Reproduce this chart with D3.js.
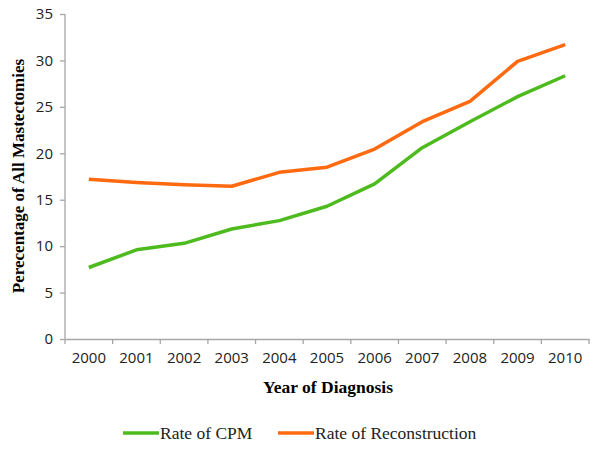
<!DOCTYPE html>
<html>
<head>
<meta charset="utf-8">
<script src="https://cdn.jsdelivr.net/npm/d3@7"></script>
<style>
  body { margin: 0; background: #fff; }
  .tick text { font-family: "Open Sans", "Liberation Sans", sans-serif; font-size: 15px; fill: #222; }
</style>
</head>
<body>
<div id="chart"></div>
<script>
// data
var years = ["2000","2001","2002","2003","2004","2005","2006","2007","2008","2009","2010"];
var cpm = [7.7, 9.6, 10.3, 11.85, 12.75, 14.3, 16.7, 20.6, 23.4, 26.1, 28.35];
var recon = [17.2, 16.85, 16.6, 16.45, 17.95, 18.5, 20.45, 23.4, 25.6, 29.9, 31.7];
var yTicks = [0, 5, 10, 15, 20, 25, 30, 35];
var seriesNames = ["Rate of CPM", "Rate of Reconstruction"];
var seriesColors = ["#4dbb1e", "#ff6a10"];

var W = 601, H = 449;
var plotL = 65, plotR = 589, plotT = 14, plotB = 339;

var svg = d3.select("#chart").append("svg")
  .attr("width", W).attr("height", H);

var x = d3.scaleBand().domain(years).range([plotL, plotR]);
var y = d3.scaleLinear().domain([0, 35]).range([plotB, plotT]);

// y axis
var yAxis = svg.append("g")
  .attr("transform", "translate(" + plotL + ",0)")
  .call(d3.axisLeft(y).tickValues(yTicks).tickSize(5).tickPadding(7));
yAxis.selectAll("line, path").attr("stroke", "#a6a6a6").attr("stroke-width", 1.3);
yAxis.select(".domain").attr("d", "M0," + plotT + "V" + plotB);

// x axis, ticks at band edges like excel
var xAxis = svg.append("g")
  .attr("transform", "translate(0," + plotB + ")")
  .call(d3.axisBottom(x).tickSizeOuter(0).tickSize(0).tickPadding(13));
xAxis.select(".domain").attr("stroke", "#a6a6a6").attr("stroke-width", 1.3);
xAxis.selectAll(".tick line").remove();
var edges = years.map(function(d) { return x(d); }).concat([plotR]);
xAxis.selectAll(".edge").data(edges).enter().append("line")
  .attr("x1", function(d) { return d; }).attr("x2", function(d) { return d; })
  .attr("y1", 0).attr("y2", 5)
  .attr("stroke", "#a6a6a6").attr("stroke-width", 1.3);

// axis titles
svg.append("text")
  .attr("x", (plotL + plotR) / 2 + 1).attr("y", 393)
  .attr("text-anchor", "middle")
  .style("font-family", "'Liberation Serif', 'Times New Roman', serif")
  .style("font-weight", "bold").style("font-size", "17.5px")
  .text("Year of Diagnosis");

svg.append("text")
  .attr("transform", "translate(24,176) rotate(-90)")
  .attr("text-anchor", "middle")
  .style("font-family", "'Liberation Serif', 'Times New Roman', serif")
  .style("font-weight", "bold").style("font-size", "17px")
  .text("Perecentage of All Mastectomies");

// lines
var line = d3.line()
  .x(function(d, i) { return x(years[i]) + x.bandwidth() / 2; })
  .y(function(d) { return y(d); });

[cpm, recon].forEach(function(s, k) {
  svg.append("path")
    .datum(s)
    .attr("d", line)
    .attr("fill", "none")
    .attr("stroke", seriesColors[k])
    .attr("stroke-width", 3.5)
    .attr("stroke-linejoin", "round");
});

// legend
var legX = [123, 278];
seriesNames.forEach(function(name, k) {
  var g = svg.append("g").attr("transform", "translate(" + legX[k] + ",433)");
  g.append("line").attr("x1", 0).attr("x2", 36).attr("y1", 0).attr("y2", 0)
    .attr("stroke", seriesColors[k]).attr("stroke-width", 3.5);
  g.append("text").attr("x", 37).attr("y", 5.5)
    .style("font-family", "'Liberation Serif', 'Times New Roman', serif")
    .style("font-size", "17.5px").attr("fill", "#222")
    .text(name);
});
</script>
</body>
</html>
